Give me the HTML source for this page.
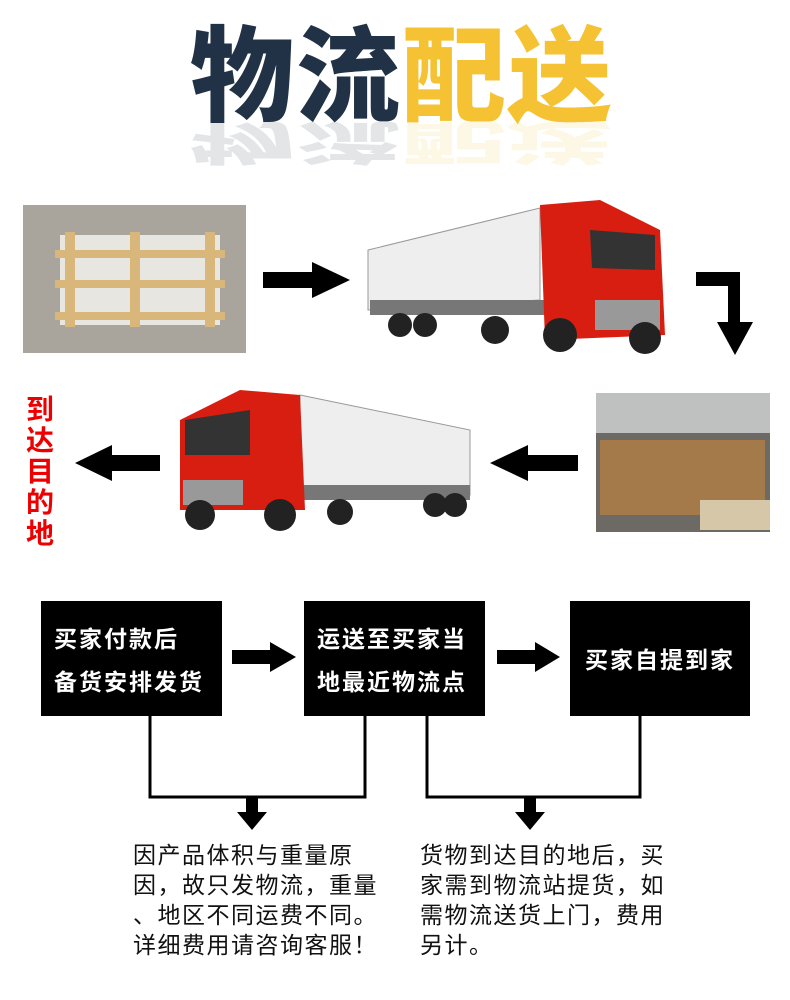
<!DOCTYPE html>
<html><head><meta charset="utf-8"><style>
body{margin:0;width:790px;height:1000px;background:#fff;position:relative;overflow:hidden;font-family:"Liberation Sans","Noto Sans CJK SC",sans-serif}
.a{position:absolute}
.t{font-weight:900;font-size:104px;line-height:104px;letter-spacing:2px;font-family:"Noto Sans CJK SC","WenQuanYi Zen Hei",sans-serif;white-space:nowrap}
.box{position:absolute;background:#000;color:#fff;font-weight:bold;font-size:23px;letter-spacing:2px;line-height:43px;font-family:"Noto Sans CJK SC",sans-serif;white-space:nowrap}
.txt{position:absolute;font-size:23px;letter-spacing:1.5px;line-height:30px;color:#111;font-family:"Noto Sans CJK SC",sans-serif;white-space:nowrap}
</style></head><body>
<div class="a t" style="left:190px;top:16px;"><span style="color:#213246">物流</span><span style="color:#f4c232">配送</span></div>
<div class="a t" style="left:190px;top:122px;transform-origin:top;transform:translateY(47px) scaleY(-0.45);opacity:.12;"><span style="color:#213246">物流</span><span style="color:#f4c232">配送</span></div>

<svg class="a" style="left:0;top:0" width="790" height="1000">
<rect x="23" y="205" width="223" height="148" fill="#a9a59c"/>
<rect x="60" y="235" width="160" height="90" fill="#e8e6e0"/>
<g fill="#d9b77a"><rect x="55" y="250" width="170" height="8"/><rect x="55" y="280" width="170" height="8"/><rect x="55" y="312" width="170" height="8"/><rect x="65" y="232" width="10" height="95"/><rect x="130" y="232" width="10" height="95"/><rect x="205" y="232" width="10" height="95"/></g>
<rect x="596" y="393" width="174" height="139" fill="#6d6a66"/>
<rect x="596" y="393" width="174" height="40" fill="#bfc0c0"/>
<rect x="600" y="440" width="165" height="75" fill="#a57a4a"/>
<rect x="700" y="500" width="70" height="30" fill="#d5c7a8"/>
<polygon points="263,272 312,272 312,262 350,280 312,298 312,288 263,288" fill="#000"/>
<polygon points="696,272 740,272 740,322 753,322 735,355 717,322 728,322 728,286 696,286" fill="#000"/>
<polygon points="160,455 112,455 112,445 75,463 112,481 112,471 160,471" fill="#000"/>
<polygon points="578,455 528,455 528,445 490,463 528,481 528,471 578,471" fill="#000"/>
<polygon points="232,650 270,650 270,642 296,657 270,672 270,664 232,664" fill="#000"/>
<polygon points="497,650 535,650 535,642 560,657 535,672 535,664 497,664" fill="#000"/>
<polygon points="368,250 540,208 540,300 368,310" fill="#eee" stroke="#999"/>
<rect x="370" y="300" width="175" height="15" fill="#777"/>
<polygon points="540,205 600,200 660,230 665,335 545,340" fill="#d81e10"/>
<polygon points="590,230 655,235 655,270 592,268" fill="#333"/>
<rect x="595" y="300" width="65" height="30" fill="#999"/>
<g fill="#222"><circle cx="400" cy="325" r="12"/><circle cx="425" cy="325" r="12"/><circle cx="495" cy="330" r="14"/><circle cx="560" cy="335" r="17"/><circle cx="645" cy="338" r="16"/></g>
<polygon points="300,395 470,430 470,495 300,490" fill="#eee" stroke="#999"/>
<rect x="300" y="485" width="170" height="15" fill="#777"/>
<polygon points="180,420 240,390 300,395 305,510 180,510" fill="#d81e10"/>
<polygon points="185,420 250,410 250,455 185,455" fill="#333"/>
<rect x="183" y="480" width="60" height="25" fill="#999"/>
<g fill="#222"><circle cx="200" cy="515" r="15"/><circle cx="280" cy="515" r="16"/><circle cx="340" cy="512" r="13"/><circle cx="435" cy="505" r="12"/><circle cx="455" cy="505" r="12"/></g>
<polyline points="150,716 150,797 365,797 365,716" fill="none" stroke="#000" stroke-width="3"/>
<polyline points="427,716 427,797 640,797 640,716" fill="none" stroke="#000" stroke-width="3"/>
<polygon points="246,797 258,797 258,812 267,812 252,830 237,812 246,812" fill="#000"/>
<polygon points="524,797 536,797 536,812 545,812 530,830 515,812 524,812" fill="#000"/>
</svg>

<div class="a" style="left:26px;top:393px;width:34px;color:#e00;font-weight:bold;font-size:28px;line-height:31px;font-family:'Noto Sans CJK SC',sans-serif">到达目的地</div>

<div class="box" style="left:41px;top:601px;width:181px;height:115px;padding:15px 0 0 13px;box-sizing:border-box">买家付款后<br>备货安排发货</div>
<div class="box" style="left:304px;top:601px;width:181px;height:115px;padding:15px 0 0 13px;box-sizing:border-box">运送至买家当<br>地最近物流点</div>
<div class="box" style="left:570px;top:601px;width:180px;height:115px;padding:36px 0 0 15px;box-sizing:border-box">买家自提到家</div>

<div class="txt" style="left:133px;top:838px;">因产品体积与重量原<br>因，故只发物流，重量<br>、地区不同运费不同。<br>详细费用请咨询客服！</div>
<div class="txt" style="left:420px;top:838px;">货物到达目的地后，买<br>家需到物流站提货，如<br>需物流送货上门，费用<br>另计。</div>
</body></html>
